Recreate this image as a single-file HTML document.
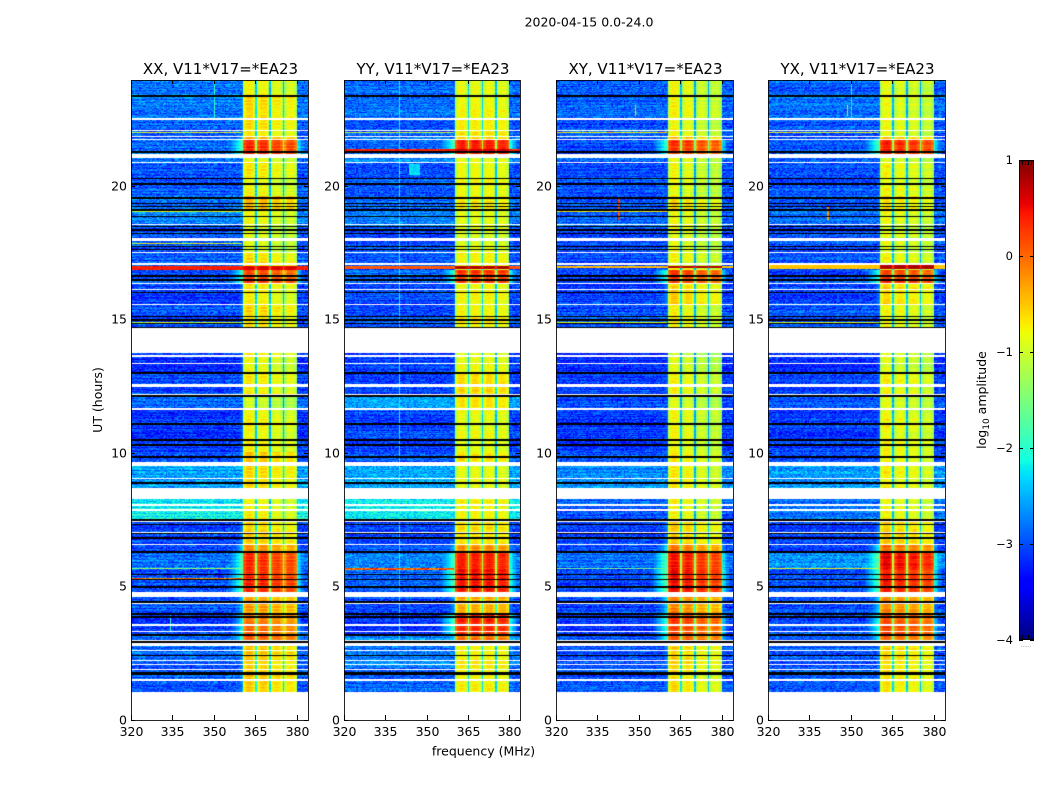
<!DOCTYPE html>
<html>
<head>
<meta charset="utf-8">
<title>2020-04-15 0.0-24.0</title>
<style>
html,body{margin:0;padding:0;background:#fff;width:1050px;height:800px;overflow:hidden}
#stage{position:relative;width:1050px;height:800px}
canvas{position:absolute;display:block}
svg{position:absolute;left:0;top:0}
text{font-family:"DejaVu Sans","Liberation Sans",sans-serif;fill:#000}
</style>
</head>
<body>
<div id="stage">
<canvas id="hm0"></canvas>
<canvas id="hm1"></canvas>
<canvas id="hm2"></canvas>
<canvas id="hm3"></canvas>
<canvas id="cb"></canvas>
<svg id="ov" width="1050" height="800"></svg>
</div>
<script>
// ---- data ----
const panelTitles = ['XX, V11*V17=*EA23','YY, V11*V17=*EA23','XY, V11*V17=*EA23','YX, V11*V17=*EA23'];
const xTicks = [320,335,350,365,380];
const yTicks = [0,5,10,15,20];
const colorbarTicks = [1,0,-1,-2,-3,-4];

// upper UT edge of each observing segment (hours)
const segmentStart = [24,23.36,22.5,21.85,21.73,21.17,20.85,20.27,19.6,19.1,18.5,17.5,16.85,16.3,15.55,14.67,13.73,13.0,12.1,11.6,10.0,9.5,8.27,7.4,6.55,6.27,5.64,4.59,3.9,3.2,2.75,2.0];

// background log10 amplitude per segment
const backgroundXX = [-2.8,-2.8,-2.95,-2.9,-2.9,-2.8,-3,-2.95,-2.85,-2.75,-3,-2.95,-3,-3.1,-3,-2.8,-3.2,-3.05,-2.9,-3.15,-2.95,-2.6,-2.2,-3.05,-3,-2.85,-3,-3,-3.15,-2.85,-2.9,-2.95];
const backgroundYY = [-2.85,-2.85,-2.95,-2.9,-2.9,-2.7,-3,-2.95,-2.85,-2.75,-3,-2.95,-2.85,-3.05,-3,-2.8,-3.1,-3.05,-2.55,-3.05,-2.95,-2.55,-2.2,-3.05,-3,-2.7,-2.9,-3,-3.15,-2.65,-2.8,-2.9];
const backgroundXY = [-2.95,-2.9,-3,-3,-3,-2.9,-3.05,-3,-3,-2.9,-3.05,-3,-3.05,-3.1,-3,-2.9,-3.2,-3.1,-3,-3.15,-3,-2.7,-2.95,-3.1,-3.05,-2.85,-3.05,-3.05,-3.1,-3,-3,-3];
const backgroundYX = [-2.95,-2.85,-3,-3,-3,-2.9,-3.05,-3,-3,-2.9,-3.05,-3,-3.05,-3.1,-3,-2.9,-3.2,-3.1,-3,-3.15,-3,-2.65,-2.85,-3.1,-3.05,-2.7,-3,-3.05,-3.05,-3,-3,-2.95];

// 360-380 MHz band log10 amplitude per segment
const bandXX = [-0.65,-0.5,-0.55,-0.2,0.4,-0.7,-0.6,-0.7,-0.3,-0.7,-0.8,-0.55,0.3,-0.6,-0.5,-1,-0.7,-0.6,-0.9,-0.65,-0.35,-0.5,-0.65,-0.45,-0.05,0.4,0.45,-0.2,0.05,0.2,-0.4,-0.4];
const bandYY = [-0.7,-0.65,-0.55,-0.5,0.55,-0.75,-0.65,-0.65,-0.55,-0.7,-0.75,-0.6,0.4,-0.65,-0.6,-1,-0.7,-0.45,-0.5,-0.7,-0.55,-0.7,-0.6,-0.5,-0.1,0.55,0.6,-0.2,0.5,0.1,-0.6,-0.6];
const bandXY = [-0.75,-0.7,-0.75,-0.4,0.35,-0.8,-0.75,-0.8,-0.55,-0.75,-0.8,-0.7,0.3,-0.5,-0.7,-1,-0.85,-0.7,-0.85,-0.75,-0.65,-0.65,-0.7,-0.5,-0.05,0.5,0.55,-0.1,0.3,0.15,-0.5,-0.6];
const bandYX = [-0.8,-0.8,-0.8,-0.4,0.4,-0.85,-0.75,-0.75,-0.6,-0.8,-0.85,-0.75,0.3,-0.55,-0.75,-1,-0.85,-0.7,-0.85,-0.75,-0.7,-0.7,-0.75,-0.5,0.05,0.55,0.45,-0.15,0.2,0.05,-0.55,-0.6];

// per-subband offset (360-365, 365-370, 370-375, 375-380 MHz)
const subbandXX = [0.05,0,-0.1,-0.15];
const subbandYY = [0,0,0,-0.05];
const subbandXY = [0.1,0,-0.15,-0.2];
const subbandYX = [0.1,0,-0.05,-0.15];

// relative gain for 128 half-MHz channels, 320 to 383.5 MHz
const channelGain = [
-9,-9,-9,-9,-9,-9,-9,-9,-9,-9,-9,-9,-9,-9,-9,-9,
-9,-9,-9,-9,-9,-9,-9,-9,-9,-9,-9,-9,-9,-9,-9,-9,
-9,-9,-9,-9,-9,-9,-9,-9,-9,-9,-9,-9,-9,-9,-9,-9,
-9,-9,-9,-9,-9,-9,-9,-9,-9,-9,-9,-9,-9,-9,-9,-9,
-4.2,-4.1,-4,-3.9,-3.8,-3.6,-3.5,-3.3,-3.2,-3.1,-3,-2.9,-2.8,-2.7,-2.55,-2.4,
-2.2,-0.5,-0.3,-0.15,-0.1,-0.1,-0.1,-0.15,-0.3,-0.45,
-1.7,-0.5,-0.3,-0.15,-0.1,-0.1,-0.1,-0.15,-0.3,-0.45,
-1.7,-0.5,-0.3,-0.15,-0.1,-0.1,-0.1,-0.15,-0.3,-0.45,
-1.7,-0.5,-0.3,-0.15,-0.1,-0.1,-0.1,-0.15,-0.3,-0.45,
-2.4,-2.6,-2.8,-3,-3.1,-3.3,-3.5,-3.7];

// flagged data
const blankRanges = [[14.67,13.73],[8.68,8.27],[4.79,4.59],[1.04,0],[21.17,21.02],[17.08,17.02],[9.66,9.51],[2.85,2.75]];
const whiteLines = [22.49,22.07,21.83,21.73,20.85,18.55,18.02,17.96,17.5,16.34,16.11,15.55,13.61,13.34,12.55,12.49,12.18,11.63,9.03,8.03,7.85,7.41,7.0,6.55,4.35,3.54,3.29,2.95,2.58,2.2,2.07,1.88,1.48];
const blackLines = [23.36,21.25,20.27,20.05,19.54,19.33,19.21,19.08,18.83,18.46,18.33,18.21,17.71,17.61,16.61,16.46,15.99,15.09,14.96,14.84,14.69,12.97,12.12,11.07,10.47,10.28,9.84,8.85,8.28,7.47,7.31,6.97,6.79,6.27,5.44,5.25,4.97,4.41,3.95,3.83,3.16,2.91,2.39,1.75,1.7];

// broadband stripes: top UT, bottom UT, level outside band, level in band (-9: band untouched)
const stripesXX = [[17.0,16.85,0.4,0.65],[22.0,21.95,-0.9,-9],[19.05,19.0,-0.9,-9],[17.85,17.8,-0.8,-9],[5.3,5.24,-0.2,-9],[5.66,5.62,-1.4,-9],[14.87,14.82,-1,-9]];
const stripesYY = [[21.36,21.26,0.4,0.7],[22.0,21.95,-1.1,-9],[17.0,16.87,0.1,0.85],[5.68,5.6,0.1,-9]];
const stripesXY = [[17.0,16.9,-0.45,0.85],[22.0,21.95,-0.8,-9],[19.05,19.0,-0.8,-9],[5.66,5.62,-1.6,-9],[14.87,14.82,-1,-9]];
const stripesYX = [[17.02,16.88,-0.5,0.85],[22.0,21.95,-0.9,-9],[5.66,5.62,-0.8,-9],[14.87,14.82,-1,-9]];

// localised patches: start MHz, end MHz, top UT, bottom UT, level
const patchesXX = [[350,350.5,24,22.5,-2.0],[334,334.5,4,3.3,-2.0]];
const patchesYY = [[343.5,347.5,20.8,20.4,-2.3],[340,340.5,24,2.9,-2.2]];
const patchesXY = [[342.5,343,19.5,18.7,0.2],[348.5,349,23,22.6,-0.5]];
const patchesYX = [[341.5,342,19.2,18.7,-0.3],[350,350.5,24,22.5,-2.2],[348.5,349,23,22.6,-0.5]];

// hand-read speckle amplitudes
const speckle = [0.21,-0.18,0.05,0.32,-0.27,-0.06,0.14,-0.33,0.26,0.02,-0.14,0.35,-0.22,0.09,-0.04,0.18,-0.31,0.28,-0.11,0.07,0.24,-0.25,-0.02,0.16,-0.36,0.11,0.3,-0.16,0.04,-0.09,0.2,-0.29,0.13,-0.2,0.27,-0.07,0.01];
const rowStreak = [0.08,-0.12,0.03,0.14,-0.06,-0.15,0.1,0.01,-0.09,0.16,-0.03,0.05,-0.13,0.12,-0.01,-0.1,0.07,0.15,-0.05,-0.14,0.02,0.09,-0.08];

// matplotlib jet colormap breakpoints
const jetRedPos = [0,0.35,0.66,0.89,1];
const jetRedVal = [0,0,1,1,0.5];
const jetGreenPos = [0,0.125,0.375,0.64,0.91,1];
const jetGreenVal = [0,0,1,1,0,0];
const jetBluePos = [0,0.11,0.34,0.65,1];
const jetBlueVal = [0.5,1,1,0,0];

const panelBackground = [backgroundXX,backgroundYY,backgroundXY,backgroundYX];
const panelBand = [bandXX,bandYY,bandXY,bandYX];
const panelSubband = [subbandXX,subbandYY,subbandXY,subbandYX];
const panelStripes = [stripesXX,stripesYY,stripesXY,stripesYX];
const panelPatches = [patchesXX,patchesYY,patchesXY,patchesYX];

// ---- layout & scales ----
const axesLeft = [131,344,556,768];
const axesRight = [308,520,733,945];
const axesTop = 80, axesBottom = 720;
const colorbarLeft = 1019, colorbarRight = 1034, colorbarTop = 160, colorbarBottom = 640;
const freqMin = 320, freqMax = 384, valMin = -4, valMax = 1;
function xScale(p,f){return axesLeft[p]+(f-freqMin)/(freqMax-freqMin)*(axesRight[p]-axesLeft[p]);}
function yScale(ut){return 719.5-26.7*ut;}
function yInvert(y){return (719.5-y)/26.7;}
function cbScale(v){return colorbarBottom-(v-valMin)/(valMax-valMin)*(colorbarBottom-colorbarTop);}
function interp(pos,val,t){
  for(let i=1;i<pos.length;i++){
    if(t<=pos[i]) return val[i-1]+(val[i]-val[i-1])*(t-pos[i-1])/(pos[i]-pos[i-1]);
  }
  return val[val.length-1];
}
function color(v){
  const t=Math.max(0,Math.min(1,(v-valMin)/(valMax-valMin)));
  const r=Math.round(255*interp(jetRedPos,jetRedVal,t));
  const g=Math.round(255*interp(jetGreenPos,jetGreenVal,t));
  const b=Math.round(255*interp(jetBluePos,jetBlueVal,t));
  return 'rgb('+r+','+g+','+b+')';
}
function segmentOf(ut){
  let s=0;
  for(let i=0;i<segmentStart.length;i++){ if(ut<=segmentStart[i]) s=i; }
  return s;
}
function subbandOf(c){
  if(c<90) return 0;
  if(c<100) return 1;
  if(c<110) return 2;
  return 3;
}
function drawHeatmap(p){
  const cv=document.getElementById('hm'+p);
  const w=axesRight[p]-axesLeft[p], h=axesBottom-axesTop;
  cv.width=w;cv.height=h;
  cv.style.left=axesLeft[p]+'px';cv.style.top=axesTop+'px';
  const ctx=cv.getContext('2d');
  const nRows=h;
  const nCh=channelGain.length;
  for(let r=0;r<nRows;r++){
    const ut=yInvert(axesTop+r+0.5);
    let blank=false;
    for(const b of blankRanges){ if(ut<=b[0]&&ut>=b[1]) blank=true; }
    for(const u of whiteLines){ if(Math.abs(ut-u)<0.026) blank=true; }
    if(blank) continue;
    let black=false;
    for(const u of blackLines){ if(Math.abs(ut-u)<0.028) black=true; }
    if(black){ ctx.fillStyle='#000'; ctx.fillRect(0,r,w,1); continue; }
    const s=segmentOf(ut);
    let stripe=null;
    for(const st of panelStripes[p]){ if(ut<=st[0]&&ut>=st[1]) stripe=st; }
    const streak=rowStreak[(r*r+r*5+p)%rowStreak.length];
    for(let c=0;c<nCh;c++){
      const f=freqMin+c*0.5;
      const n=speckle[(c*c*7+r*r*13+c*r*3+c*11+r*17+p*5)%speckle.length];
      let v=panelBackground[p][s]+n+streak;
      const b=panelBand[p][s]+panelSubband[p][subbandOf(c)]+channelGain[c]+n*0.25+streak*0.8;
      if(b>v) v=b;
      for(const pt of panelPatches[p]){
        if(f>=pt[0]&&f<pt[1]&&ut<=pt[2]&&ut>=pt[3]&&pt[4]+n*0.5>v) v=pt[4]+n*0.5;
      }
      if(stripe!==null){
        if(stripe[3]>-9){
          v=channelGain[c]>-1.8 ? stripe[3]+channelGain[c]*0.3 : stripe[2]+n*0.3;
        } else if(c<80){
          v=stripe[2]+n*1.2;
        }
      }
      const x0=Math.round(xScale(p,f))-axesLeft[p];
      const x1=Math.round(xScale(p,f+0.5))-axesLeft[p];
      ctx.fillStyle=color(v);
      ctx.fillRect(x0,r,x1-x0,1);
    }
  }
}
for(let p=0;p<4;p++) drawHeatmap(p);

// colorbar
(function(){
  const cv=document.getElementById('cb');
  const w=colorbarRight-colorbarLeft,h=colorbarBottom-colorbarTop;
  cv.width=w;cv.height=h;cv.style.left=colorbarLeft+'px';cv.style.top=colorbarTop+'px';
  const ctx=cv.getContext('2d');
  for(let r=0;r<h;r++){
    const v=valMin+(h-r-0.5)/h*(valMax-valMin);
    ctx.fillStyle=color(v);ctx.fillRect(0,r,w,1);
  }
})();

// ---- overlay ----
const NS='http://www.w3.org/2000/svg';
const ov=document.getElementById('ov');
function mk(tag,attrs,txt){
  const el=document.createElementNS(NS,tag);
  for(const k in attrs) el.setAttribute(k,attrs[k]);
  if(txt!==undefined) el.textContent=txt;
  ov.appendChild(el);
  return el;
}
function tickLine(x1,y1,x2,y2){
  return mk('line',{x1:x1,y1:y1,x2:x2,y2:y2,stroke:'#000','stroke-width':1});
}
let e;
e=mk('text',{x:589,y:26.5,'text-anchor':'middle','font-size':12.5},'2020-04-15 0.0-24.0');


e=mk('text',{x:483.5,y:755.5,'text-anchor':'middle','font-size':12.5},'frequency (MHz)');


e=mk('text',{x:102,y:400,'text-anchor':'middle','font-size':12.5,transform:'rotate(-90 102 400)'},'UT (hours)');


e=mk('text',{x:986,y:400,'text-anchor':'middle','font-size':12.5,transform:'rotate(-90 986 400)'});


e.innerHTML='log<tspan font-size="9" dy="3">10</tspan><tspan dy="-3"> amplitude</tspan>';

for(let p=0;p<4;p++){
  const L=axesLeft[p],R=axesRight[p];
  e=mk('text',{x:(L+R)/2+1,y:74,'text-anchor':'middle','font-size':15},panelTitles[p]);
  
  
  e=mk('rect',{x:L+0.5,y:axesTop+0.5,width:R-L,height:axesBottom-axesTop,fill:'none',stroke:'#000','stroke-width':1,'stroke-opacity':0.85});
  
  
  xTicks.forEach(function(t){
    const x=Math.round(xScale(p,t))+0.5;
    e=tickLine(x,axesBottom,x,axesBottom-5);
    
    
    e=tickLine(x,axesTop,x,axesTop+4);
    
    
    e=mk('text',{x:x,y:736,'text-anchor':'middle','font-size':12.5},String(t));
    
    
  });
  yTicks.forEach(function(t){
    const y=Math.round(yScale(t))+0.5;
    e=tickLine(L,y,L+4,y);
    
    
    e=tickLine(R-4,y,R,y);
    
    
    e=mk('text',{x:L-4,y:y+4,'text-anchor':'end','font-size':12.5},String(t));
    
    
  });
}
e=mk('rect',{x:colorbarLeft+0.5,y:colorbarTop+0.5,width:colorbarRight-colorbarLeft-1,height:colorbarBottom-colorbarTop-1,fill:'none',stroke:'#000','stroke-width':1});


colorbarTicks.forEach(function(t){
  const y=Math.round(cbScale(t));
  e=tickLine(colorbarLeft,y+0.5,colorbarLeft+4,y+0.5);
  
  
  e=tickLine(colorbarRight-4,y+0.5,colorbarRight,y+0.5);
  
  
  e=mk('text',{x:1013,y:y+4,'text-anchor':'end','font-size':11.5},t<0?'\u2212'+Math.abs(t):String(t));
  
  
});
for(let i=1;i<=4;i++){
  const x=colorbarLeft+i*3+0.5;
  e=tickLine(x,colorbarTop,x,colorbarTop+5);
  
  
  e=tickLine(x,colorbarBottom-5,x,colorbarBottom);
  
  
}
e=mk('text',{x:1026,y:647,'text-anchor':'middle','font-size':6,style:'fill:#888'},'......');


</script>
</body>
</html>
